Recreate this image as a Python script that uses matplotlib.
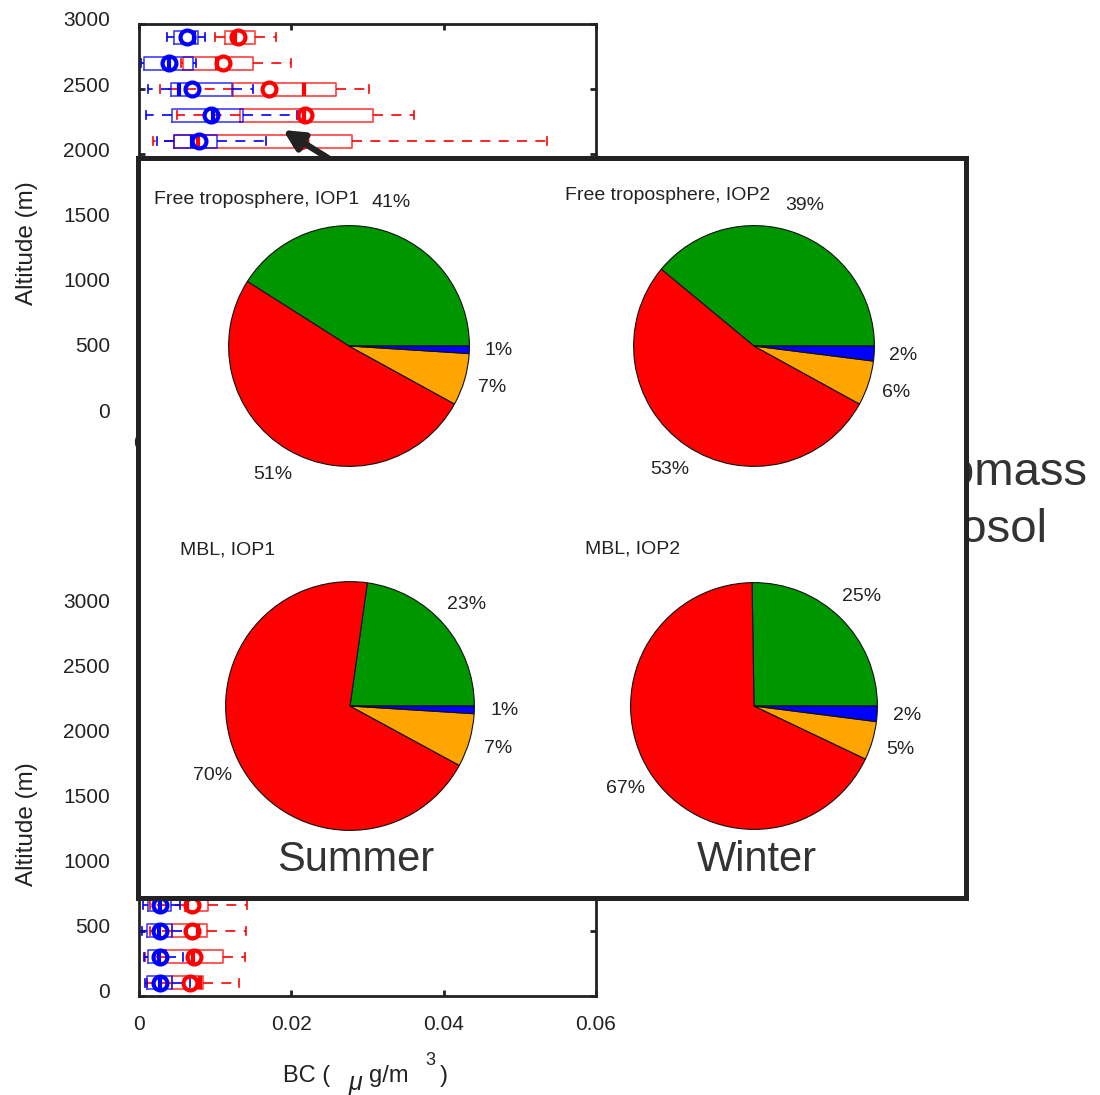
import matplotlib
matplotlib.use("Agg")
import matplotlib.pyplot as plt
import matplotlib.transforms as mtransforms
from matplotlib.patches import Rectangle

plt.rcParams['font.family'] = ['Liberation Sans', 'DejaVu Sans']

W, H = 1100, 1095
INK = '#222222'


def rect(x0, y0, x1, y1):
    # pixel box (top-left origin) -> figure fraction [l, b, w, h]
    return [x0 / W, 1 - y1 / H, (x1 - x0) / W, (y1 - y0) / H]


# ################ Box plot data (BC, ug/m3) ################ #
top_alt = [2900, 2700, 2500, 2300, 2100]
top_blue_whislo = [0.0037, 0.0003, 0.0012, 0.0009, 0.0024]
top_blue_q1 = [0.0046, 0.0007, 0.0042, 0.0043, 0.0046]
top_blue_med = [0.0072, 0.0039, 0.0053, 0.0097, 0.0070]
top_blue_q3 = [0.0077, 0.0071, 0.0122, 0.0137, 0.0102]
top_blue_whishi = [0.0087, 0.0075, 0.0150, 0.0207, 0.0167]
top_blue_mean = [0.0063, 0.0040, 0.0070, 0.0095, 0.0079]

top_red_whislo = [0.0100, 0.0055, 0.0028, 0.0050, 0.0018]
top_red_q1 = [0.0113, 0.0058, 0.0123, 0.0133, 0.0046]
top_red_med = [0.0126, 0.0102, 0.0217, 0.0216, 0.0077]
top_red_q3 = [0.0152, 0.0150, 0.0259, 0.0307, 0.0280]
top_red_whishi = [0.0180, 0.0200, 0.0302, 0.0361, 0.0536]
top_red_mean = [0.0130, 0.0110, 0.0171, 0.0218, 0.0212]

bot_alt = [700, 500, 300, 100]
bot_blue_whislo = [0.0005, 0.0004, 0.0006, 0.0008]
bot_blue_q1 = [0.0012, 0.0011, 0.0012, 0.0011]
bot_blue_med = [0.0028, 0.0026, 0.0026, 0.0027]
bot_blue_q3 = [0.0042, 0.0043, 0.0036, 0.0043]
bot_blue_whishi = [0.0054, 0.0063, 0.0058, 0.0067]
bot_blue_mean = [0.0027, 0.0028, 0.0028, 0.0028]

bot_red_whislo = [0.0014, 0.0014, 0.0008, 0.0010]
bot_red_q1 = [0.0060, 0.0043, 0.0036, 0.0043]
bot_red_med = [0.0063, 0.0077, 0.0071, 0.0080]
bot_red_q3 = [0.0091, 0.0089, 0.0110, 0.0084]
bot_red_whishi = [0.0142, 0.0141, 0.0139, 0.0131]
bot_red_mean = [0.0070, 0.0069, 0.0072, 0.0067]

# ################ Pie data (%) ################ #
pie_titles = ["Free troposphere, IOP1", "Free troposphere, IOP2", "MBL, IOP1", "MBL, IOP2"]
pie_green = [41, 39, 23, 25]
pie_red = [51, 53, 70, 67]
pie_orange = [7, 6, 7, 5]
pie_blue = [1, 2, 1, 2]
pie_colors = ['#009600', '#ff0000', '#ffa500', '#0000ff']
seasons = ["Summer", "Winter"]


def make_stats(whislo, q1, med, q3, whishi, mean):
    return [dict(whislo=a, q1=b, med=c, q3=d, whishi=e, mean=f, fliers=[])
            for a, b, c, d, e, f in zip(whislo, q1, med, q3, whishi, mean)]


def draw_boxes(ax, stats, alts, c):
    ax.bxp(stats, positions=alts, widths=100, orientation='horizontal',
           showmeans=True, showfliers=False, capwidths=60, manage_ticks=False,
           boxprops=dict(color=c, lw=1.2, alpha=0.75),
           whiskerprops=dict(color=c, lw=1.2, linestyle=(0, (6, 5))),
           capprops=dict(color=c, lw=1.2),
           medianprops=dict(color=c, lw=3),
           meanprops=dict(marker='o', markerfacecolor='none', markeredgecolor=c,
                          markeredgewidth=3, markersize=10))


def style_axes(ax):
    ax.set_xlim(0, 0.06)
    ax.set_ylim(0, 3000)
    ax.set_xticks([0, 0.02, 0.04, 0.06])
    ax.set_xticklabels(['0', '0.02', '0.04', '0.06'])
    ax.set_yticks(range(0, 3001, 500))
    ax.tick_params(direction='in', length=4, width=2, top=True, right=True,
                   labelsize=15, colors=INK)
    ax.tick_params(axis='y', pad=21)
    ax.tick_params(axis='x', pad=14)
    for s in ax.spines.values():
        s.set_linewidth(2)
        s.set_color(INK)
    ax.set_ylabel("Altitude (m)", fontsize=17.5, color=INK)
    ax.yaxis.set_label_coords(-0.222, 0.44)
    shift = mtransforms.ScaledTranslation(0, 5 / 100, ax.figure.dpi_scale_trans)
    for t in ax.get_yticklabels():
        t.set_transform(t.get_transform() + shift)


fig = plt.figure(figsize=(11, 10.95), dpi=100)

# ################ Box plots ################ #
ax_top = fig.add_axes(rect(139, 24, 596, 415))
draw_boxes(ax_top, make_stats(top_red_whislo, top_red_q1, top_red_med, top_red_q3, top_red_whishi, top_red_mean), top_alt, '#ff0000')
draw_boxes(ax_top, make_stats(top_blue_whislo, top_blue_q1, top_blue_med, top_blue_q3, top_blue_whishi, top_blue_mean), top_alt, '#0000ff')
style_axes(ax_top)

ax_bot = fig.add_axes(rect(139, 605, 596, 996))
draw_boxes(ax_bot, make_stats(bot_red_whislo, bot_red_q1, bot_red_med, bot_red_q3, bot_red_whishi, bot_red_mean), bot_alt, '#ff0000')
draw_boxes(ax_bot, make_stats(bot_blue_whislo, bot_blue_q1, bot_blue_med, bot_blue_q3, bot_blue_whishi, bot_blue_mean), bot_alt, '#0000ff')
style_axes(ax_bot)

# x label written in pieces, like the original: BC ( ug/m 3 )
xlabel_parts = [("BC (", 283, 1082, 17, 'normal'), ("μ", 349, 1090, 18, 'italic'),
                ("g/m", 369, 1082, 17, 'normal'), ("3", 425, 1065, 13, 'normal'),
                (")", 440, 1082, 17, 'normal')]
for s, x, y, fs, st in xlabel_parts:
    fig.text(x / W, 1 - y / H, s, fontsize=fs, style=st, color=INK, ha='left', va='baseline')

# text partly hidden behind the inset
fig.text(1087 / W, 1 - 473 / H, "Biomass", fontsize=34, color='#333333',
         ha='right', va='center', zorder=1)
fig.text(1047 / W, 1 - 530 / H, "aerosol", fontsize=34, color='#333333',
         ha='right', va='center', zorder=1)

# ################ Inset with pies ################ #
fig.add_artist(Rectangle((137.5 / W, 1 - 897.5 / H), (965.5 - 137.5) / W, (897.5 - 157.5) / H,
                         transform=fig.transFigure, facecolor='white', edgecolor=INK,
                         linewidth=3.6, zorder=5))

pie_centres = [(349, 346, 121), (754, 346, 121), (350, 706, 125), (754, 706, 124)]
title_pos = [(154, 200), (565, 196), (180, 550), (585, 549)]
for i, (cx, cy, r) in enumerate(pie_centres):
    ax = fig.add_axes(rect(cx - r, cy - r, cx + r, cy + r))
    ax.set_zorder(6)
    vals = [pie_green[i], pie_red[i], pie_orange[i], pie_blue[i]]
    labels = [f"{v}%" for v in vals]
    _, texts = ax.pie(vals, colors=pie_colors, startangle=0, counterclock=True,
                      labels=labels, labeldistance=1.24,
                      wedgeprops=dict(edgecolor='#111111', linewidth=0.8),
                      textprops=dict(fontsize=14, color=INK))
    for t in texts:
        t.set_ha('center')
        t.set_va('center')
    ax.set_xlim(-1.005, 1.005)
    ax.set_ylim(-1.005, 1.005)
    ax.axis('off')
    tx, ty = title_pos[i]
    fig.text(tx / W, 1 - ty / H, pie_titles[i], fontsize=14, color=INK,
             ha='left', va='center', zorder=8)

for name, x in zip(seasons, [356, 757]):
    fig.text(x / W, 1 - 860 / H, name, fontsize=30, color='#333333',
             ha='center', va='center', zorder=8)

# arrow from the inset to the 2100 m level
fig.add_artist(plt.Annotation("", xy=(283 / W, 1 - 130 / H), xytext=(328 / W, 1 - 158 / H),
                              xycoords='figure fraction', textcoords='figure fraction',
                              arrowprops=dict(arrowstyle='-|>', color=INK, lw=4.5,
                                              mutation_scale=30, shrinkA=0, shrinkB=0),
                              zorder=7))

fig.savefig("out.png", dpi=100)
